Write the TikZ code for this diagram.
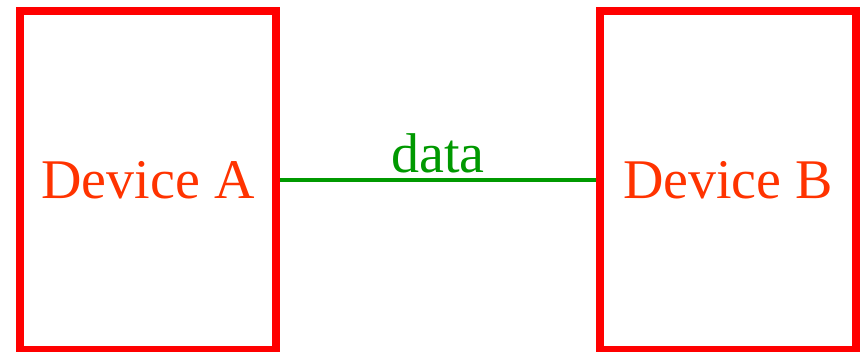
\documentclass[tikz,border=0pt]{standalone}
\usepackage{fontspec}
\setmainfont{Liberation Serif}
\definecolor{boxred}{HTML}{FF0000}
\definecolor{textred}{HTML}{FF3300}
\definecolor{linegreen}{HTML}{009900}
\begin{document}
\begin{tikzpicture}[x=1pt,y=1pt,
  device/.style={draw=boxred, line width=8pt, minimum width=256pt, minimum height=339pt,
    inner sep=0pt, text=textred, font=\fontsize{56}{60}\selectfont},
  link/.style={draw=linegreen, line width=4pt},
  linklabel/.style={text=linegreen, font=\fontsize{56}{60}\selectfont, inner sep=0pt}]
\useasboundingbox (0,0) rectangle (862,352);
\node[device] (a) at (148,171.5) {Device A};
\node[device] (b) at (728,171.5) {Device B};
\draw[link] (a.east) -- node[linklabel, anchor=base, yshift=7.5pt] (lbl) {data} (b.west);
\end{tikzpicture}
\end{document}
